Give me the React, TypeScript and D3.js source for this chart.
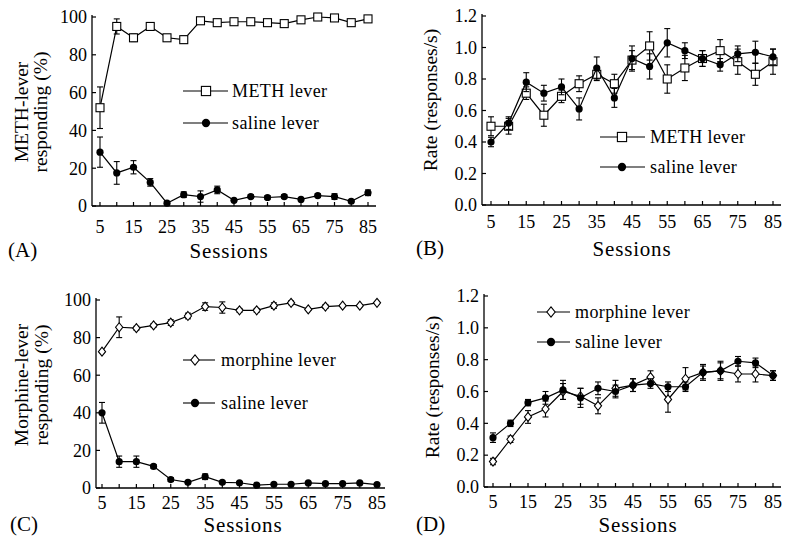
import React from "react"
import * as d3 from "d3"

const sessions = [5, 10, 15, 20, 25, 30, 35, 40, 45, 50, 55, 60, 65, 70, 75, 80, 85]
const sessionLabels = [5, 15, 25, 35, 45, 55, 65, 75, 85]

// (A) METH discrimination, % responding
const methPct = [52, 95, 89, 95, 89, 88, 98, 97, 97.5, 97.5, 97, 96.5, 98.5, 100, 99.5, 97, 99]
const methPctErr = [11, 4, 2, 1.5, 1, 2, 1, 1, 1, 1, 1, 1, 1, 0.5, 0.5, 1.5, 1]
const methSalPct = [28.5, 17.5, 20.5, 12.5, 1.5, 6, 5, 8.5, 3, 5, 4.5, 5, 3.5, 5.5, 5, 2.5, 7]
const methSalPctErr = [8, 6, 3.5, 2, 0.5, 1.5, 3, 2, 0.5, 1, 1, 1, 0.5, 1, 1.5, 0.5, 1.5]

// (B) METH discrimination, rate
const methRate = [0.5, 0.5, 0.71, 0.57, 0.69, 0.77, 0.83, 0.77, 0.92, 1.01, 0.8, 0.87, 0.93, 0.98, 0.91, 0.83, 0.91]
const methRateErr = [0.06, 0.05, 0.04, 0.07, 0.04, 0.05, 0.04, 0.06, 0.06, 0.09, 0.09, 0.08, 0.05, 0.07, 0.08, 0.07, 0.08]
const methSalRate = [0.4, 0.52, 0.78, 0.71, 0.75, 0.61, 0.87, 0.68, 0.93, 0.88, 1.03, 0.98, 0.93, 0.89, 0.96, 0.97, 0.94]
const methSalRateErr = [0.03, 0.04, 0.06, 0.05, 0.05, 0.07, 0.07, 0.06, 0.08, 0.08, 0.09, 0.05, 0.05, 0.04, 0.05, 0.07, 0.05]

// (C) morphine discrimination, % responding
const morPct = [72.5, 85.5, 85, 86.5, 88, 91.5, 96.5, 96, 94.5, 94.5, 97, 98.5, 95, 96.5, 97, 97, 98.5]
const morPctErr = [0.5, 5.5, 1, 1, 1.5, 1.5, 2, 3, 1, 1, 1.5, 1, 0.5, 1, 0.5, 0.5, 0.5]
const morSalPct = [40, 14, 14, 11.5, 4.5, 3, 6, 3, 2.8, 1.5, 2, 2, 2.7, 2.3, 2.3, 2.7, 1.8]
const morSalPctErr = [5.5, 3, 3, 1, 1, 0.5, 1.5, 0.5, 0.5, 0.3, 0.3, 0.3, 0.3, 0.3, 0.3, 0.3, 0.3]

// (D) morphine discrimination, rate
const morRate = [0.16, 0.3, 0.44, 0.49, 0.6, 0.57, 0.51, 0.62, 0.64, 0.69, 0.55, 0.68, 0.72, 0.73, 0.71, 0.71, 0.7]
const morRateErr = [0.02, 0.02, 0.04, 0.05, 0.05, 0.05, 0.05, 0.05, 0.04, 0.04, 0.08, 0.07, 0.05, 0.06, 0.05, 0.05, 0.03]
const morSalRate = [0.31, 0.4, 0.53, 0.56, 0.61, 0.56, 0.62, 0.6, 0.64, 0.65, 0.63, 0.63, 0.72, 0.73, 0.79, 0.78, 0.7]
const morSalRateErr = [0.03, 0.02, 0.02, 0.04, 0.06, 0.06, 0.04, 0.04, 0.04, 0.03, 0.03, 0.03, 0.04, 0.05, 0.03, 0.03, 0.03]

const pctTicks = [0, 20, 40, 60, 80, 100]
const rateTicks = [0, 0.2, 0.4, 0.6, 0.8, 1.0, 1.2]

const FONT = "Times New Roman, Liberation Serif, serif"

type Marker = "square" | "circle" | "diamond"

function Mark({ kind, x, y, s = 1 }: { kind: Marker; x: number; y: number; s?: number }) {
  if (kind === "circle") return <circle cx={x} cy={y} r={3.6 * s} fill="#000" />
  if (kind === "square") {
    const h = 4 * s
    return <rect x={x - h} y={y - h} width={2 * h} height={2 * h} fill="#fff" stroke="#000" strokeWidth={1.1} />
  }
  const h = 4.5 * s
  return (
    <path d={`M${x},${y - h}L${x + h * 0.8},${y}L${x},${y + h}L${x - h * 0.8},${y}Z`}
      fill="#fff" stroke="#000" strokeWidth={1.1} />
  )
}

function Panel(p: any) {
  const x = d3.scaleLinear().domain([5, 85]).range(p.xr)
  const y = d3.scaleLinear().domain([0, p.ymax]).range(p.yr)
  const line = d3.line<number>().x((_, i) => x(sessions[i])).y(v => y(v))
  const fmt = p.ymax > 10 ? d3.format("d") : d3.format(".1f")
  const xEnd = p.xr[1] + 8
  return (
    <g style={{ fontFamily: FONT }} fill="#000">
      {/* axes */}
      <line x1={p.ax} x2={p.ax} y1={p.yr[1] - 2} y2={p.yr[0]} stroke="#000" strokeWidth={1.3} />
      <line x1={p.ax} x2={xEnd} y1={p.yr[0]} y2={p.yr[0]} stroke="#000" strokeWidth={1.3} />
      {p.yticks.map((t: number) => (
        <g key={t}>
          <line x1={p.ax} x2={p.ax + 4} y1={y(t)} y2={y(t)} stroke="#000" strokeWidth={1.2} />
          <text x={p.ax - 5} y={y(t)} dy="0.35em" textAnchor="end" fontSize={18}>{fmt(t)}</text>
        </g>
      ))}
      {sessions.map(s => (
        <line key={s} x1={x(s)} x2={x(s)} y1={p.yr[0]} y2={p.yr[0] - 4} stroke="#000" strokeWidth={1.2} />
      ))}
      {sessionLabels.map(s => (
        <text key={s} x={x(s)} y={p.yr[0] + p.tickGap} dy="0.35em" textAnchor="middle" fontSize={18}>{s}</text>
      ))}
      <text x={p.sessX} y={p.sessY} dy="0.35em" textAnchor="middle" fontSize={21} letterSpacing={0.8}>Sessions</text>
      <text x={p.tagX} y={p.sessY - 1} dy="0.35em" fontSize={21}>{p.tag}</text>
      {p.ytitle.map((t: string, i: number) => (
        <text key={i} transform={`translate(${p.ytX[i]},${p.ytY}) rotate(-90)`} dy="0.35em"
          textAnchor="middle" fontSize={19.5}>{t}</text>
      ))}
      {/* series */}
      {p.series.map((sr: any, k: number) => (
        <g key={k}>
          <path d={line(sr.v) || ""} fill="none" stroke="#000" strokeWidth={1.2} />
          {sr.v.map((v: number, i: number) => {
            const cx = x(sessions[i])
            const e = sr.e[i]
            return (
              <g key={i} stroke="#000" strokeWidth={1.1}>
                <line x1={cx} x2={cx} y1={y(v + e)} y2={y(v - e)} />
                <line x1={cx - 3} x2={cx + 3} y1={y(v + e)} y2={y(v + e)} />
                <line x1={cx - 3} x2={cx + 3} y1={y(v - e)} y2={y(v - e)} />
              </g>
            )
          })}
          {sr.v.map((v: number, i: number) => (
            <Mark key={"m" + i} kind={sr.kind} x={x(sessions[i])} y={y(v)} />
          ))}
        </g>
      ))}
      {/* legend */}
      {p.series.map((sr: any, k: number) => {
        const ly = p.leg.y[k]
        return (
          <g key={"l" + k}>
            <line x1={p.leg.x1} x2={p.leg.x2} y1={ly} y2={ly} stroke="#000" strokeWidth={1.1} />
            <Mark kind={sr.kind} x={p.leg.mx} y={ly} s={1.15} />
            <text x={p.leg.tx} y={ly} dy="0.35em" fontSize={18} letterSpacing={0.4}>{sr.name}</text>
          </g>
        )
      })}
    </g>
  )
}

export default function App() {
  return (
    <svg width={788} height={536} style={{ position: "absolute", left: 0, top: 0, background: "#fff" }}>
      <rect width={788} height={536} fill="#fff" />
      <Panel ax={92} xr={[100, 368]} yr={[206, 17]} ymax={100} yticks={pctTicks} tickGap={21}
        sessX={229} sessY={251} tag="(A)" tagX={8}
        ytitle={["METH-lever", "responding (%)"]} ytX={[21, 40]} ytY={112}
        leg={{ x1: 183, x2: 228, mx: 206, tx: 232, y: [91, 123] }}
        series={[
          { name: "METH lever", kind: "square", v: methPct, e: methPctErr },
          { name: "saline lever", kind: "circle", v: methSalPct, e: methSalPctErr },
        ]} />
      <Panel ax={482} xr={[491, 773]} yr={[205, 16]} ymax={1.2} yticks={rateTicks} tickGap={17}
        sessX={632} sessY={249} tag="(B)" tagX={416}
        ytitle={["Rate (responses/s)"]} ytX={[430]} ytY={100}
        leg={{ x1: 600, x2: 645, mx: 622, tx: 650, y: [137, 167] }}
        series={[
          { name: "METH lever", kind: "square", v: methRate, e: methRateErr },
          { name: "saline lever", kind: "circle", v: methSalRate, e: methSalRateErr },
        ]} />
      <Panel ax={96} xr={[102, 377]} yr={[488, 300]} ymax={100} yticks={pctTicks} tickGap={15}
        sessX={243} sessY={525} tag="(C)" tagX={10}
        ytitle={["Morphine-lever", "responding (%)"]} ytX={[21, 41]} ytY={385}
        leg={{ x1: 183, x2: 215, mx: 195, tx: 221, y: [360, 403] }}
        series={[
          { name: "morphine lever", kind: "diamond", v: morPct, e: morPctErr },
          { name: "saline lever", kind: "circle", v: morSalPct, e: morSalPctErr },
        ]} />
      <Panel ax={484} xr={[493, 773]} yr={[487, 296]} ymax={1.2} yticks={rateTicks} tickGap={15}
        sessX={638} sessY={525} tag="(D)" tagX={416}
        ytitle={["Rate (responses/s)"]} ytX={[432]} ytY={387}
        leg={{ x1: 537, x2: 570, mx: 551, tx: 575, y: [312, 342] }}
        series={[
          { name: "morphine lever", kind: "diamond", v: morRate, e: morRateErr },
          { name: "saline lever", kind: "circle", v: morSalRate, e: morSalRateErr },
        ]} />
    </svg>
  )
}
